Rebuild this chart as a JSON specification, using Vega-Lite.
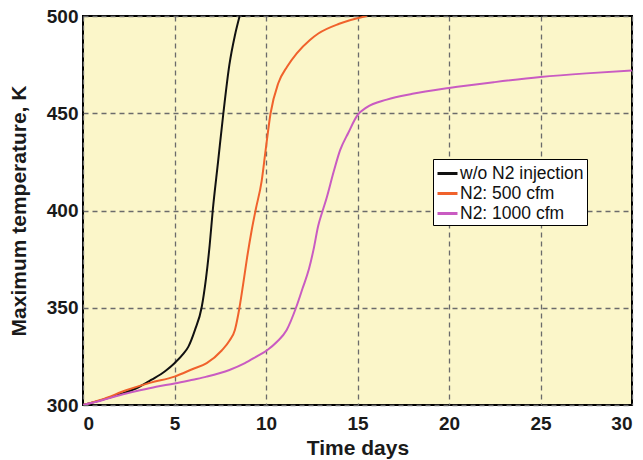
{
  "$schema": "https://vega.github.io/schema/vega-lite/v6.json",
  "width": 549,
  "height": 389,
  "autosize": {"type": "none"},
  "padding": {"left": 83, "top": 16, "right": 11, "bottom": 55},
  "background": "white",
  "config": {
    "view": {"fill": "#FBF6C9", "stroke": "black", "strokeWidth": 2},
    "axis": {
      "domain": false,
      "ticks": false,
      "labelFont": "Liberation Sans",
      "labelFontWeight": "bold",
      "labelFontSize": 19,
      "labelColor": "#1a1a1a",
      "titleFont": "Liberation Sans",
      "titleFontWeight": "bold",
      "titleFontSize": 21,
      "titleColor": "#1a1a1a",
      "grid": true,
      "gridColor": "#6b6b6b",
      "gridDash": [5, 4],
      "gridWidth": 1.3
    },
    "legend": {
      "labelFont": "Liberation Sans",
      "labelFontSize": 17.5,
      "labelColor": "#111"
    }
  },
  "data": {
    "values": [
      {"t": 0, "T": 300, "s": "w/o N2 injection"},
      {"t": 1, "T": 302.5, "s": "w/o N2 injection"},
      {"t": 2, "T": 305.5, "s": "w/o N2 injection"},
      {"t": 3, "T": 309, "s": "w/o N2 injection"},
      {"t": 3.75, "T": 313, "s": "w/o N2 injection"},
      {"t": 4.5, "T": 317.5, "s": "w/o N2 injection"},
      {"t": 5, "T": 321.5, "s": "w/o N2 injection"},
      {"t": 5.5, "T": 326.5, "s": "w/o N2 injection"},
      {"t": 5.76, "T": 330, "s": "w/o N2 injection"},
      {"t": 6.12, "T": 338.6, "s": "w/o N2 injection"},
      {"t": 6.48, "T": 350, "s": "w/o N2 injection"},
      {"t": 6.72, "T": 365, "s": "w/o N2 injection"},
      {"t": 6.92, "T": 382, "s": "w/o N2 injection"},
      {"t": 7.09, "T": 400, "s": "w/o N2 injection"},
      {"t": 7.38, "T": 425, "s": "w/o N2 injection"},
      {"t": 7.67, "T": 450, "s": "w/o N2 injection"},
      {"t": 8.0, "T": 475, "s": "w/o N2 injection"},
      {"t": 8.3, "T": 490, "s": "w/o N2 injection"},
      {"t": 8.56, "T": 500, "s": "w/o N2 injection"},

      {"t": 0, "T": 300, "s": "N2: 500 cfm"},
      {"t": 1, "T": 302.7, "s": "N2: 500 cfm"},
      {"t": 2.4, "T": 307.7, "s": "N2: 500 cfm"},
      {"t": 3.7, "T": 311.5, "s": "N2: 500 cfm"},
      {"t": 5, "T": 314.6, "s": "N2: 500 cfm"},
      {"t": 6, "T": 318.5, "s": "N2: 500 cfm"},
      {"t": 6.76, "T": 321.5, "s": "N2: 500 cfm"},
      {"t": 7.58, "T": 328, "s": "N2: 500 cfm"},
      {"t": 8.0, "T": 333, "s": "N2: 500 cfm"},
      {"t": 8.3, "T": 338.6, "s": "N2: 500 cfm"},
      {"t": 8.55, "T": 350, "s": "N2: 500 cfm"},
      {"t": 8.75, "T": 362, "s": "N2: 500 cfm"},
      {"t": 8.97, "T": 376, "s": "N2: 500 cfm"},
      {"t": 9.22, "T": 390, "s": "N2: 500 cfm"},
      {"t": 9.45, "T": 401, "s": "N2: 500 cfm"},
      {"t": 9.76, "T": 415, "s": "N2: 500 cfm"},
      {"t": 9.98, "T": 431, "s": "N2: 500 cfm"},
      {"t": 10.25, "T": 450, "s": "N2: 500 cfm"},
      {"t": 10.67, "T": 465.4, "s": "N2: 500 cfm"},
      {"t": 11.16, "T": 474, "s": "N2: 500 cfm"},
      {"t": 11.68, "T": 480.8, "s": "N2: 500 cfm"},
      {"t": 12.4, "T": 487.7, "s": "N2: 500 cfm"},
      {"t": 12.86, "T": 491, "s": "N2: 500 cfm"},
      {"t": 14, "T": 496, "s": "N2: 500 cfm"},
      {"t": 15.5, "T": 500, "s": "N2: 500 cfm"},

      {"t": 0, "T": 300, "s": "N2: 1000 cfm"},
      {"t": 1, "T": 302.3, "s": "N2: 1000 cfm"},
      {"t": 2, "T": 305, "s": "N2: 1000 cfm"},
      {"t": 3, "T": 307.3, "s": "N2: 1000 cfm"},
      {"t": 4, "T": 309.4, "s": "N2: 1000 cfm"},
      {"t": 5, "T": 311, "s": "N2: 1000 cfm"},
      {"t": 6, "T": 313, "s": "N2: 1000 cfm"},
      {"t": 6.76, "T": 314.6, "s": "N2: 1000 cfm"},
      {"t": 8, "T": 318, "s": "N2: 1000 cfm"},
      {"t": 8.85, "T": 321.5, "s": "N2: 1000 cfm"},
      {"t": 9.5, "T": 325, "s": "N2: 1000 cfm"},
      {"t": 10.04, "T": 328, "s": "N2: 1000 cfm"},
      {"t": 10.6, "T": 332.5, "s": "N2: 1000 cfm"},
      {"t": 11.13, "T": 338.6, "s": "N2: 1000 cfm"},
      {"t": 11.64, "T": 350, "s": "N2: 1000 cfm"},
      {"t": 12.0, "T": 360, "s": "N2: 1000 cfm"},
      {"t": 12.35, "T": 370, "s": "N2: 1000 cfm"},
      {"t": 12.6, "T": 380, "s": "N2: 1000 cfm"},
      {"t": 12.85, "T": 392, "s": "N2: 1000 cfm"},
      {"t": 13.1, "T": 400, "s": "N2: 1000 cfm"},
      {"t": 13.3, "T": 406, "s": "N2: 1000 cfm"},
      {"t": 13.7, "T": 420, "s": "N2: 1000 cfm"},
      {"t": 14.05, "T": 431, "s": "N2: 1000 cfm"},
      {"t": 14.5, "T": 440, "s": "N2: 1000 cfm"},
      {"t": 15.0, "T": 449, "s": "N2: 1000 cfm"},
      {"t": 15.5, "T": 453, "s": "N2: 1000 cfm"},
      {"t": 16.6, "T": 457, "s": "N2: 1000 cfm"},
      {"t": 18, "T": 460, "s": "N2: 1000 cfm"},
      {"t": 20, "T": 463, "s": "N2: 1000 cfm"},
      {"t": 22.5, "T": 466, "s": "N2: 1000 cfm"},
      {"t": 25, "T": 468.6, "s": "N2: 1000 cfm"},
      {"t": 27.5, "T": 470.5, "s": "N2: 1000 cfm"},
      {"t": 30, "T": 472, "s": "N2: 1000 cfm"}
    ]
  },
  "mark": {"type": "line", "strokeWidth": 2, "interpolate": "monotone", "clip": true},
  "encoding": {
    "x": {
      "field": "t",
      "type": "quantitative",
      "scale": {"domain": [0, 30], "nice": false, "zero": false},
      "axis": {"values": [0, 5, 10, 15, 20, 25, 30], "title": "Time days", "labelPadding": 9, "titlePadding": 4}
    },
    "y": {
      "field": "T",
      "type": "quantitative",
      "scale": {"domain": [300, 500], "nice": false, "zero": false},
      "axis": {"values": [300, 350, 400, 450, 500], "title": "Maximum temperature, K", "labelPadding": 5, "titlePadding": 17}
    },
    "color": {
      "field": "s",
      "type": "nominal",
      "sort": null,
      "scale": {
        "domain": ["w/o N2 injection", "N2: 500 cfm", "N2: 1000 cfm"],
        "range": ["#111111", "#F0622C", "#C95BC2"]
      },
      "legend": {
        "title": null,
        "orient": "none",
        "legendX": 350,
        "legendY": 143,
        "symbolType": "stroke",
        "symbolSize": 400,
        "symbolStrokeWidth": 3,
        "labelOffset": 1,
        "rowPadding": 0,
        "padding": 3,
        "strokeColor": "black",
        "fillColor": "white"
      }
    }
  }
}
